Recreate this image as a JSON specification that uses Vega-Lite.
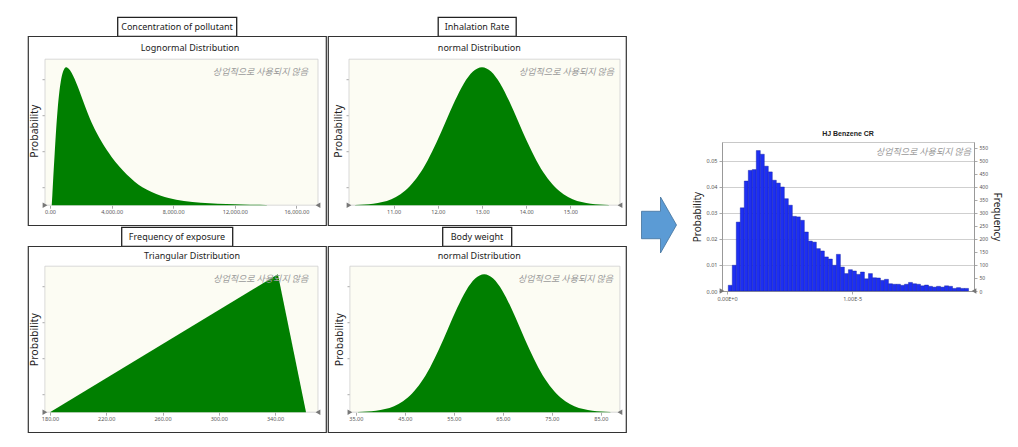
{
  "$schema": "https://vega.github.io/schema/vega-lite/v6.json",
  "background": "white",
  "padding": {"left": 27, "top": 16, "right": 5, "bottom": 5},
  "config": {
    "font": "Noto Sans",
    "view": {"stroke": null},
    "axis": {"labelFont": "Noto Sans", "titleFont": "Noto Sans", "titleFontWeight": "normal", "labelColor": "#555", "titleColor": "#222", "tickColor": "#aaa", "domainColor": "#999", "labelOverlap": false, "labelFlush": false}
  },
  "hconcat": [
    {
      "vconcat": [
        {
          "hconcat": [
            {
              "vconcat": [
                {
                  "width": 119, "height": 19,
                  "view": {"stroke": "#222", "strokeWidth": 1.3, "fill": "white"},
                  "data": {"values": [{"label": "Concentration of pollutant"}]},
                  "mark": {"type": "text", "fontSize": 9, "color": "#222"},
                  "encoding": {"text": {"field": "label"}}
                },
                {
                  "width": 298, "height": 189,
                  "view": {"stroke": "#333", "strokeWidth": 1.2, "fill": "white"},
                  "data": {"values": [
                    {"concentration": 110, "probability": 0},
                    {"concentration": 150, "probability": 0.07},
                    {"concentration": 200, "probability": 0.177},
                    {"concentration": 300, "probability": 0.37},
                    {"concentration": 400, "probability": 0.552},
                    {"concentration": 500, "probability": 0.701},
                    {"concentration": 600, "probability": 0.815},
                    {"concentration": 700, "probability": 0.896},
                    {"concentration": 800, "probability": 0.95},
                    {"concentration": 900, "probability": 0.982},
                    {"concentration": 1000, "probability": 0.997},
                    {"concentration": 1070, "probability": 1},
                    {"concentration": 1200, "probability": 0.99},
                    {"concentration": 1400, "probability": 0.96},
                    {"concentration": 1600, "probability": 0.915},
                    {"concentration": 1800, "probability": 0.86},
                    {"concentration": 2000, "probability": 0.8},
                    {"concentration": 2300, "probability": 0.71},
                    {"concentration": 2600, "probability": 0.625},
                    {"concentration": 3000, "probability": 0.53},
                    {"concentration": 3400, "probability": 0.45},
                    {"concentration": 4000, "probability": 0.35},
                    {"concentration": 4500, "probability": 0.28},
                    {"concentration": 5000, "probability": 0.22},
                    {"concentration": 5500, "probability": 0.17},
                    {"concentration": 6000, "probability": 0.13},
                    {"concentration": 6600, "probability": 0.095},
                    {"concentration": 7200, "probability": 0.068},
                    {"concentration": 7700, "probability": 0.052},
                    {"concentration": 8700, "probability": 0.03},
                    {"concentration": 9800, "probability": 0.018},
                    {"concentration": 10900, "probability": 0.011},
                    {"concentration": 12000, "probability": 0.007},
                    {"concentration": 13000, "probability": 0.004},
                    {"concentration": 14000, "probability": 0.001},
                    {"concentration": 14100, "probability": 0}
                  ]},
                  "layer": [
                    {
                      "mark": {"type": "area", "opacity": 0},
                      "encoding": {
                        "x": {"field": "concentration", "type": "quantitative", "scale": {"domain": [-1429, 17922], "nice": false, "zero": false}, "axis": {"title": null, "values": [0, 2000, 4000, 6000, 8000, 10000, 12000, 14000, 16000], "format": ",.2f", "offset": -20, "domain": false, "tickSize": 3, "labelFontSize": 5.5, "labelPadding": 1, "labelOverlap": false, "labelSeparation": -15, "labelFlush": false, "grid": false}},
                        "y": {"field": "probability", "type": "quantitative", "scale": {"domain": [-0.1449, 1.2246], "nice": false, "zero": false}, "axis": {"title": "Probability", "titleFontSize": 10.5, "labels": false, "offset": -17, "domain": false, "tickSize": 3, "values": [0.13, 0.26, 0.39, 0.52, 0.65, 0.78, 0.91, 1.04], "titlePadding": 2, "grid": false}},
                        "y2": {"datum": 0}
                      }
                    },
                    {
                      "data": {"values": [{"area": "plot"}]},
                      "mark": {"type": "rect", "fill": "#fcfcf3", "stroke": "#cfcfcf", "strokeWidth": 0.8},
                      "encoding": {
                        "x": {"datum": -325, "type": "quantitative"},
                        "x2": {"datum": 17403},
                        "y": {"datum": 0, "type": "quantitative"},
                        "y2": {"datum": 1.058}
                      }
                    },
                    {
                      "mark": {"type": "area", "color": "#007f00", "interpolate": "monotone"},
                      "encoding": {
                        "x": {"field": "concentration", "type": "quantitative"},
                        "y": {"field": "probability", "type": "quantitative"},
                        "y2": {"datum": 0}
                      }
                    },
                    {
                      "data": {"values": [{"title": "Lognormal Distribution"}]},
                      "mark": {"type": "text", "fontSize": 9, "color": "#222", "baseline": "middle"},
                      "encoding": {"text": {"field": "title"}, "x": {"datum": 9091, "type": "quantitative"}, "y": {"datum": 1.14, "type": "quantitative"}}
                    },
                    {
                      "data": {"values": [{"note": "상업적으로 사용되지 않음"}]},
                      "mark": {"type": "text", "align": "right", "baseline": "middle", "font": "Noto Sans CJK KR", "fontSize": 9, "fontStyle": "italic", "color": "#9a9a9a"},
                      "encoding": {"text": {"field": "note"}, "x": {"datum": 16753, "type": "quantitative"}, "y": {"datum": 0.964, "type": "quantitative"}}
                    },
                    {
                      "data": {"values": [{"marker": "start"}]},
                      "mark": {"type": "point", "shape": "triangle-right", "filled": true, "color": "#777", "size": 30, "opacity": 1},
                      "encoding": {"x": {"datum": -325, "type": "quantitative"}, "y": {"datum": 0, "type": "quantitative"}}
                    },
                    {
                      "data": {"values": [{"marker": "end"}]},
                      "mark": {"type": "point", "shape": "triangle-left", "filled": true, "color": "#777", "size": 30, "opacity": 1},
                      "encoding": {"x": {"datum": 17403, "type": "quantitative"}, "y": {"datum": 0, "type": "quantitative"}}
                    }
                  ]
                }
              ],
              "spacing": 0, "center": true, "bounds": "flush"
            },
            {
              "vconcat": [
                {
                  "width": 78, "height": 19,
                  "view": {"stroke": "#222", "strokeWidth": 1.3, "fill": "white"},
                  "data": {"values": [{"label": "Inhalation Rate"}]},
                  "mark": {"type": "text", "fontSize": 9, "color": "#222"},
                  "encoding": {"text": {"field": "label"}}
                },
                {
                  "width": 298, "height": 189,
                  "view": {"stroke": "#333", "strokeWidth": 1.2, "fill": "white"},
                  "data": {"values": [
                    {"inhalation_rate": 10.13, "probability": 0.0022},
                    {"inhalation_rate": 10.335, "probability": 0.0051},
                    {"inhalation_rate": 10.54, "probability": 0.0111},
                    {"inhalation_rate": 10.745, "probability": 0.0228},
                    {"inhalation_rate": 10.95, "probability": 0.0439},
                    {"inhalation_rate": 11.155, "probability": 0.0796},
                    {"inhalation_rate": 11.36, "probability": 0.1353},
                    {"inhalation_rate": 11.565, "probability": 0.2163},
                    {"inhalation_rate": 11.77, "probability": 0.3247},
                    {"inhalation_rate": 11.975, "probability": 0.4578},
                    {"inhalation_rate": 12.18, "probability": 0.6065},
                    {"inhalation_rate": 12.385, "probability": 0.7548},
                    {"inhalation_rate": 12.59, "probability": 0.8825},
                    {"inhalation_rate": 12.795, "probability": 0.969},
                    {"inhalation_rate": 13.0, "probability": 1.0},
                    {"inhalation_rate": 13.205, "probability": 0.969},
                    {"inhalation_rate": 13.41, "probability": 0.8825},
                    {"inhalation_rate": 13.615, "probability": 0.7548},
                    {"inhalation_rate": 13.82, "probability": 0.6065},
                    {"inhalation_rate": 14.025, "probability": 0.4578},
                    {"inhalation_rate": 14.23, "probability": 0.3247},
                    {"inhalation_rate": 14.435, "probability": 0.2163},
                    {"inhalation_rate": 14.64, "probability": 0.1353},
                    {"inhalation_rate": 14.845, "probability": 0.0796},
                    {"inhalation_rate": 15.05, "probability": 0.0439},
                    {"inhalation_rate": 15.255, "probability": 0.0228},
                    {"inhalation_rate": 15.46, "probability": 0.0111},
                    {"inhalation_rate": 15.665, "probability": 0.0051},
                    {"inhalation_rate": 15.87, "probability": 0.0022}
                  ]},
                  "layer": [
                    {
                      "mark": {"type": "area", "opacity": 0},
                      "encoding": {
                        "x": {"field": "inhalation_rate", "type": "quantitative", "scale": {"domain": [9.516, 16.258], "nice": false, "zero": false}, "axis": {"title": null, "values": [11, 12, 13, 14, 15], "format": ".2f", "offset": -20, "domain": false, "tickSize": 3, "labelFontSize": 5.5, "labelPadding": 1, "labelOverlap": false, "labelSeparation": -15, "labelFlush": false, "grid": false}},
                        "y": {"field": "probability", "type": "quantitative", "scale": {"domain": [-0.1449, 1.2246], "nice": false, "zero": false}, "axis": {"title": "Probability", "titleFontSize": 10.5, "labels": false, "offset": -21, "domain": false, "tickSize": 3, "values": [0.13, 0.26, 0.39, 0.52, 0.65, 0.78, 0.91, 1.04], "titlePadding": 2, "grid": false}},
                        "y2": {"datum": 0}
                      }
                    },
                    {
                      "data": {"values": [{"area": "plot"}]},
                      "mark": {"type": "rect", "fill": "#fcfcf3", "stroke": "#cfcfcf", "strokeWidth": 0.8},
                      "encoding": {
                        "x": {"datum": 9.991, "type": "quantitative"},
                        "x2": {"datum": 16.122},
                        "y": {"datum": 0, "type": "quantitative"},
                        "y2": {"datum": 1.058}
                      }
                    },
                    {
                      "mark": {"type": "area", "color": "#007f00", "interpolate": "monotone"},
                      "encoding": {
                        "x": {"field": "inhalation_rate", "type": "quantitative"},
                        "y": {"field": "probability", "type": "quantitative"},
                        "y2": {"datum": 0}
                      }
                    },
                    {
                      "data": {"values": [{"title": "normal Distribution"}]},
                      "mark": {"type": "text", "fontSize": 9, "color": "#222", "baseline": "middle"},
                      "encoding": {"text": {"field": "title"}, "x": {"datum": 12.94, "type": "quantitative"}, "y": {"datum": 1.14, "type": "quantitative"}}
                    },
                    {
                      "data": {"values": [{"note": "상업적으로 사용되지 않음"}]},
                      "mark": {"type": "text", "align": "right", "baseline": "middle", "font": "Noto Sans CJK KR", "fontSize": 9, "fontStyle": "italic", "color": "#9a9a9a"},
                      "encoding": {"text": {"field": "note"}, "x": {"datum": 15.99, "type": "quantitative"}, "y": {"datum": 0.964, "type": "quantitative"}}
                    },
                    {
                      "data": {"values": [{"marker": "start"}]},
                      "mark": {"type": "point", "shape": "triangle-right", "filled": true, "color": "#777", "size": 30, "opacity": 1},
                      "encoding": {"x": {"datum": 9.991, "type": "quantitative"}, "y": {"datum": 0, "type": "quantitative"}}
                    },
                    {
                      "data": {"values": [{"marker": "end"}]},
                      "mark": {"type": "point", "shape": "triangle-left", "filled": true, "color": "#777", "size": 30, "opacity": 1},
                      "encoding": {"x": {"datum": 16.122, "type": "quantitative"}, "y": {"datum": 0, "type": "quantitative"}}
                    }
                  ]
                }
              ],
              "spacing": 0, "center": true, "bounds": "flush"
            }
          ],
          "spacing": 0
        },
        {
          "hconcat": [
            {
              "vconcat": [
                {
                  "width": 111, "height": 19,
                  "view": {"stroke": "#222", "strokeWidth": 1.3, "fill": "white"},
                  "data": {"values": [{"label": "Frequency of exposure"}]},
                  "mark": {"type": "text", "fontSize": 9, "color": "#222"},
                  "encoding": {"text": {"field": "label"}}
                },
                {
                  "width": 298, "height": 186,
                  "view": {"stroke": "#333", "strokeWidth": 1.2, "fill": "white"},
                  "data": {"values": [
                    {"exposure_days": 180, "probability": 0},
                    {"exposure_days": 342, "probability": 1},
                    {"exposure_days": 362, "probability": 0}
                  ]},
                  "layer": [
                    {
                      "mark": {"type": "area", "opacity": 0},
                      "encoding": {
                        "x": {"field": "exposure_days", "type": "quantitative", "scale": {"domain": [164.4, 376.2], "nice": false, "zero": false}, "axis": {"title": null, "values": [180, 200, 220, 240, 260, 280, 300, 320, 340, 360], "format": ".2f", "offset": -20, "domain": false, "tickSize": 3, "labelFontSize": 5.5, "labelPadding": 1, "labelOverlap": false, "labelSeparation": -15, "labelFlush": false, "grid": false}},
                        "y": {"field": "probability", "type": "quantitative", "scale": {"domain": [-0.1449, 1.2029], "nice": false, "zero": false}, "axis": {"title": "Probability", "titleFontSize": 10.5, "labels": false, "offset": -17, "domain": false, "tickSize": 3, "values": [0.13, 0.26, 0.39, 0.52, 0.65, 0.78, 0.91, 1.04], "titlePadding": 2, "grid": false}},
                        "y2": {"datum": 0}
                      }
                    },
                    {
                      "data": {"values": [{"area": "plot"}]},
                      "mark": {"type": "rect", "fill": "#fcfcf3", "stroke": "#cfcfcf", "strokeWidth": 0.8},
                      "encoding": {
                        "x": {"datum": 176.4, "type": "quantitative"},
                        "x2": {"datum": 370.5},
                        "y": {"datum": 0, "type": "quantitative"},
                        "y2": {"datum": 1.058}
                      }
                    },
                    {
                      "mark": {"type": "area", "color": "#007f00"},
                      "encoding": {
                        "x": {"field": "exposure_days", "type": "quantitative"},
                        "y": {"field": "probability", "type": "quantitative"},
                        "y2": {"datum": 0}
                      }
                    },
                    {
                      "data": {"values": [{"title": "Triangular Distribution"}]},
                      "mark": {"type": "text", "fontSize": 9, "color": "#222", "baseline": "middle"},
                      "encoding": {"text": {"field": "title"}, "x": {"datum": 281, "type": "quantitative"}, "y": {"datum": 1.13, "type": "quantitative"}}
                    },
                    {
                      "data": {"values": [{"note": "상업적으로 사용되지 않음"}]},
                      "mark": {"type": "text", "align": "right", "baseline": "middle", "font": "Noto Sans CJK KR", "fontSize": 9, "fontStyle": "italic", "color": "#9a9a9a"},
                      "encoding": {"text": {"field": "note"}, "x": {"datum": 363.6, "type": "quantitative"}, "y": {"datum": 0.964, "type": "quantitative"}}
                    },
                    {
                      "data": {"values": [{"marker": "start"}]},
                      "mark": {"type": "point", "shape": "triangle-right", "filled": true, "color": "#777", "size": 30, "opacity": 1},
                      "encoding": {"x": {"datum": 176.4, "type": "quantitative"}, "y": {"datum": 0, "type": "quantitative"}}
                    },
                    {
                      "data": {"values": [{"marker": "end"}]},
                      "mark": {"type": "point", "shape": "triangle-left", "filled": true, "color": "#777", "size": 30, "opacity": 1},
                      "encoding": {"x": {"datum": 370.5, "type": "quantitative"}, "y": {"datum": 0, "type": "quantitative"}}
                    }
                  ]
                }
              ],
              "spacing": 0, "center": true, "bounds": "flush"
            },
            {
              "vconcat": [
                {
                  "width": 69, "height": 19,
                  "view": {"stroke": "#222", "strokeWidth": 1.3, "fill": "white"},
                  "data": {"values": [{"label": "Body weight"}]},
                  "mark": {"type": "text", "fontSize": 9, "color": "#222"},
                  "encoding": {"text": {"field": "label"}}
                },
                {
                  "width": 298, "height": 186,
                  "view": {"stroke": "#333", "strokeWidth": 1.2, "fill": "white"},
                  "data": {"values": [
                    {"body_weight": 35.44, "probability": 0.0022},
                    {"body_weight": 37.28, "probability": 0.0051},
                    {"body_weight": 39.12, "probability": 0.0111},
                    {"body_weight": 40.96, "probability": 0.0228},
                    {"body_weight": 42.8, "probability": 0.0439},
                    {"body_weight": 44.64, "probability": 0.0796},
                    {"body_weight": 46.48, "probability": 0.1353},
                    {"body_weight": 48.32, "probability": 0.2163},
                    {"body_weight": 50.16, "probability": 0.3247},
                    {"body_weight": 52.0, "probability": 0.4578},
                    {"body_weight": 53.84, "probability": 0.6065},
                    {"body_weight": 55.68, "probability": 0.7548},
                    {"body_weight": 57.52, "probability": 0.8825},
                    {"body_weight": 59.36, "probability": 0.969},
                    {"body_weight": 61.2, "probability": 1.0},
                    {"body_weight": 63.04, "probability": 0.969},
                    {"body_weight": 64.88, "probability": 0.8825},
                    {"body_weight": 66.72, "probability": 0.7548},
                    {"body_weight": 68.56, "probability": 0.6065},
                    {"body_weight": 70.4, "probability": 0.4578},
                    {"body_weight": 72.24, "probability": 0.3247},
                    {"body_weight": 74.08, "probability": 0.2163},
                    {"body_weight": 75.92, "probability": 0.1353},
                    {"body_weight": 77.76, "probability": 0.0796},
                    {"body_weight": 79.6, "probability": 0.0439},
                    {"body_weight": 81.44, "probability": 0.0228},
                    {"body_weight": 83.28, "probability": 0.0111},
                    {"body_weight": 85.12, "probability": 0.0051},
                    {"body_weight": 86.96, "probability": 0.0022}
                  ]},
                  "layer": [
                    {
                      "mark": {"type": "area", "opacity": 0},
                      "encoding": {
                        "x": {"field": "body_weight", "type": "quantitative", "scale": {"domain": [29.33, 90.14], "nice": false, "zero": false}, "axis": {"title": null, "values": [35, 40, 45, 50, 55, 60, 65, 70, 75, 80, 85], "format": ".2f", "offset": -20, "domain": false, "tickSize": 3, "labelFontSize": 5.5, "labelPadding": 1, "labelOverlap": false, "labelSeparation": -15, "labelFlush": false, "grid": false}},
                        "y": {"field": "probability", "type": "quantitative", "scale": {"domain": [-0.1449, 1.2029], "nice": false, "zero": false}, "axis": {"title": "Probability", "titleFontSize": 10.5, "labels": false, "offset": -22, "domain": false, "tickSize": 3, "values": [0.13, 0.26, 0.39, 0.52, 0.65, 0.78, 0.91, 1.04], "titlePadding": 2, "grid": false}},
                        "y2": {"datum": 0}
                      }
                    },
                    {
                      "data": {"values": [{"area": "plot"}]},
                      "mark": {"type": "rect", "fill": "#fcfcf3", "stroke": "#cfcfcf", "strokeWidth": 0.8},
                      "encoding": {
                        "x": {"datum": 33.8, "type": "quantitative"},
                        "x2": {"datum": 88.9},
                        "y": {"datum": 0, "type": "quantitative"},
                        "y2": {"datum": 1.058}
                      }
                    },
                    {
                      "mark": {"type": "area", "color": "#007f00", "interpolate": "monotone"},
                      "encoding": {
                        "x": {"field": "body_weight", "type": "quantitative"},
                        "y": {"field": "probability", "type": "quantitative"},
                        "y2": {"datum": 0}
                      }
                    },
                    {
                      "data": {"values": [{"title": "normal Distribution"}]},
                      "mark": {"type": "text", "fontSize": 9, "color": "#222", "baseline": "middle"},
                      "encoding": {"text": {"field": "title"}, "x": {"datum": 60.2, "type": "quantitative"}, "y": {"datum": 1.13, "type": "quantitative"}}
                    },
                    {
                      "data": {"values": [{"note": "상업적으로 사용되지 않음"}]},
                      "mark": {"type": "text", "align": "right", "baseline": "middle", "font": "Noto Sans CJK KR", "fontSize": 9, "fontStyle": "italic", "color": "#9a9a9a"},
                      "encoding": {"text": {"field": "note"}, "x": {"datum": 87.5, "type": "quantitative"}, "y": {"datum": 0.964, "type": "quantitative"}}
                    },
                    {
                      "data": {"values": [{"marker": "start"}]},
                      "mark": {"type": "point", "shape": "triangle-right", "filled": true, "color": "#777", "size": 30, "opacity": 1},
                      "encoding": {"x": {"datum": 33.8, "type": "quantitative"}, "y": {"datum": 0, "type": "quantitative"}}
                    },
                    {
                      "data": {"values": [{"marker": "end"}]},
                      "mark": {"type": "point", "shape": "triangle-left", "filled": true, "color": "#777", "size": 30, "opacity": 1},
                      "encoding": {"x": {"datum": 88.9, "type": "quantitative"}, "y": {"datum": 0, "type": "quantitative"}}
                    }
                  ]
                }
              ],
              "spacing": 0, "center": true, "bounds": "flush"
            }
          ],
          "spacing": 0
        }
      ],
      "spacing": 0
    },
    {
      "width": 40, "height": 60,
      "data": {"values": [{"symbol": "arrow"}]},
      "mark": {"type": "point", "shape": "M-0.625,-0.49L0.054,-0.49L0.054,-1L0.625,0L0.054,1L0.054,0.49L-0.625,0.49Z", "size": 3136, "filled": true, "fill": "#5b9bd5", "stroke": "#41719c", "strokeWidth": 0.8, "opacity": 1},
      "encoding": {}
    },
    {
      "width": 252, "height": 149,
      "title": {"text": "HJ Benzene CR", "font": "Liberation Sans", "fontSize": 7, "fontWeight": "bold", "color": "#222", "offset": 5},
      "view": {"stroke": "#c8c8c8", "fill": "white"},
      "data": {"values": [
        {"cr_from": 1.0e-7, "cr_to": 4.2e-7, "probability": 0.0022, "frequency": 22},
        {"cr_from": 4.2e-7, "cr_to": 7.4e-7, "probability": 0.0099, "frequency": 99},
        {"cr_from": 7.4e-7, "cr_to": 10.6e-7, "probability": 0.0265, "frequency": 265},
        {"cr_from": 10.6e-7, "cr_to": 13.8e-7, "probability": 0.032, "frequency": 320},
        {"cr_from": 13.8e-7, "cr_to": 17.0e-7, "probability": 0.0423, "frequency": 423},
        {"cr_from": 17.0e-7, "cr_to": 20.2e-7, "probability": 0.0464, "frequency": 464},
        {"cr_from": 20.2e-7, "cr_to": 23.4e-7, "probability": 0.0467, "frequency": 467},
        {"cr_from": 23.4e-7, "cr_to": 26.6e-7, "probability": 0.054, "frequency": 540},
        {"cr_from": 26.6e-7, "cr_to": 29.8e-7, "probability": 0.0526, "frequency": 526},
        {"cr_from": 29.8e-7, "cr_to": 33.0e-7, "probability": 0.048, "frequency": 480},
        {"cr_from": 33.0e-7, "cr_to": 36.2e-7, "probability": 0.0458, "frequency": 458},
        {"cr_from": 36.2e-7, "cr_to": 39.4e-7, "probability": 0.0426, "frequency": 426},
        {"cr_from": 39.4e-7, "cr_to": 42.6e-7, "probability": 0.0415, "frequency": 415},
        {"cr_from": 42.6e-7, "cr_to": 45.8e-7, "probability": 0.04, "frequency": 400},
        {"cr_from": 45.8e-7, "cr_to": 49.0e-7, "probability": 0.0355, "frequency": 355},
        {"cr_from": 49.0e-7, "cr_to": 52.2e-7, "probability": 0.033, "frequency": 330},
        {"cr_from": 52.2e-7, "cr_to": 55.4e-7, "probability": 0.0287, "frequency": 287},
        {"cr_from": 55.4e-7, "cr_to": 58.6e-7, "probability": 0.0285, "frequency": 285},
        {"cr_from": 58.6e-7, "cr_to": 61.8e-7, "probability": 0.0272, "frequency": 272},
        {"cr_from": 61.8e-7, "cr_to": 65.0e-7, "probability": 0.0227, "frequency": 227},
        {"cr_from": 65.0e-7, "cr_to": 68.2e-7, "probability": 0.0192, "frequency": 192},
        {"cr_from": 68.2e-7, "cr_to": 71.4e-7, "probability": 0.0188, "frequency": 188},
        {"cr_from": 71.4e-7, "cr_to": 74.6e-7, "probability": 0.0163, "frequency": 163},
        {"cr_from": 74.6e-7, "cr_to": 77.8e-7, "probability": 0.0154, "frequency": 154},
        {"cr_from": 77.8e-7, "cr_to": 81.0e-7, "probability": 0.0131, "frequency": 131},
        {"cr_from": 81.0e-7, "cr_to": 84.2e-7, "probability": 0.0123, "frequency": 123},
        {"cr_from": 84.2e-7, "cr_to": 87.4e-7, "probability": 0.0099, "frequency": 99},
        {"cr_from": 87.4e-7, "cr_to": 90.6e-7, "probability": 0.0141, "frequency": 141},
        {"cr_from": 90.6e-7, "cr_to": 93.8e-7, "probability": 0.0092, "frequency": 92},
        {"cr_from": 93.8e-7, "cr_to": 97.0e-7, "probability": 0.0067, "frequency": 67},
        {"cr_from": 97.0e-7, "cr_to": 100.2e-7, "probability": 0.0082, "frequency": 82},
        {"cr_from": 100.2e-7, "cr_to": 103.4e-7, "probability": 0.0077, "frequency": 77},
        {"cr_from": 103.4e-7, "cr_to": 106.6e-7, "probability": 0.0064, "frequency": 64},
        {"cr_from": 106.6e-7, "cr_to": 109.8e-7, "probability": 0.0073, "frequency": 73},
        {"cr_from": 109.8e-7, "cr_to": 113.0e-7, "probability": 0.0047, "frequency": 47},
        {"cr_from": 113.0e-7, "cr_to": 116.2e-7, "probability": 0.0067, "frequency": 67},
        {"cr_from": 116.2e-7, "cr_to": 119.4e-7, "probability": 0.0051, "frequency": 51},
        {"cr_from": 119.4e-7, "cr_to": 122.6e-7, "probability": 0.005, "frequency": 50},
        {"cr_from": 122.6e-7, "cr_to": 125.8e-7, "probability": 0.0041, "frequency": 41},
        {"cr_from": 125.8e-7, "cr_to": 129.0e-7, "probability": 0.0045, "frequency": 45},
        {"cr_from": 129.0e-7, "cr_to": 132.2e-7, "probability": 0.0028, "frequency": 28},
        {"cr_from": 132.2e-7, "cr_to": 135.4e-7, "probability": 0.0026, "frequency": 26},
        {"cr_from": 135.4e-7, "cr_to": 138.6e-7, "probability": 0.0026, "frequency": 26},
        {"cr_from": 138.6e-7, "cr_to": 141.8e-7, "probability": 0.0022, "frequency": 22},
        {"cr_from": 141.8e-7, "cr_to": 145.0e-7, "probability": 0.0026, "frequency": 26},
        {"cr_from": 145.0e-7, "cr_to": 148.2e-7, "probability": 0.0033, "frequency": 33},
        {"cr_from": 148.2e-7, "cr_to": 151.4e-7, "probability": 0.0028, "frequency": 28},
        {"cr_from": 151.4e-7, "cr_to": 154.6e-7, "probability": 0.0026, "frequency": 26},
        {"cr_from": 154.6e-7, "cr_to": 157.8e-7, "probability": 0.002, "frequency": 20},
        {"cr_from": 157.8e-7, "cr_to": 161.0e-7, "probability": 0.0023, "frequency": 23},
        {"cr_from": 161.0e-7, "cr_to": 164.2e-7, "probability": 0.0018, "frequency": 18},
        {"cr_from": 164.2e-7, "cr_to": 167.4e-7, "probability": 0.0015, "frequency": 15},
        {"cr_from": 167.4e-7, "cr_to": 170.6e-7, "probability": 0.0018, "frequency": 18},
        {"cr_from": 170.6e-7, "cr_to": 173.8e-7, "probability": 0.0015, "frequency": 15},
        {"cr_from": 173.8e-7, "cr_to": 177.0e-7, "probability": 0.002, "frequency": 20},
        {"cr_from": 177.0e-7, "cr_to": 180.2e-7, "probability": 0.0018, "frequency": 18},
        {"cr_from": 180.2e-7, "cr_to": 183.4e-7, "probability": 0.001, "frequency": 10},
        {"cr_from": 183.4e-7, "cr_to": 186.6e-7, "probability": 0.0013, "frequency": 13},
        {"cr_from": 186.6e-7, "cr_to": 189.8e-7, "probability": 0.001, "frequency": 10},
        {"cr_from": 189.8e-7, "cr_to": 193.0e-7, "probability": 0.001, "frequency": 10}
      ]},
      "layer": [
        {
          "mark": {"type": "rect", "fill": "#1e2ff2", "stroke": "#0d1b99", "strokeWidth": 0.4},
          "encoding": {
            "x": {"field": "cr_from", "type": "quantitative", "scale": {"domain": [-4e-7, 1.9736e-5], "nice": false, "zero": false}, "axis": {"title": " ", "titleFontSize": 5, "titlePadding": 1, "values": [0, 1e-5], "labelExpr": "replace(format(datum.value, '.2e'), 'e', 'E')", "labelFontSize": 5.5, "tickSize": 3, "labelPadding": 2, "grid": false}},
            "x2": {"field": "cr_to"},
            "y": {"field": "probability", "type": "quantitative", "scale": {"domain": [0, 0.0573], "nice": false}, "axis": {"title": "Probability", "titleFontSize": 10, "values": [0, 0.01, 0.02, 0.03, 0.04, 0.05], "format": ".2f", "grid": true, "gridColor": "#cfcfcf", "labelFontSize": 5.5, "tickSize": 3, "titlePadding": 4}},
            "y2": {"datum": 0}
          }
        },
        {
          "mark": {"type": "rect", "opacity": 0},
          "encoding": {
            "x": {"field": "cr_from", "type": "quantitative"},
            "x2": {"field": "cr_to"},
            "y": {"field": "frequency", "type": "quantitative", "scale": {"domain": [0, 573], "nice": false}, "axis": {"orient": "right", "title": "Frequency", "titleAngle": 90, "titleFontSize": 10, "values": [0, 50, 100, 150, 200, 250, 300, 350, 400, 450, 500, 550], "labelFontSize": 5, "tickSize": 3, "grid": false, "titlePadding": 4}},
            "y2": {"datum": 0}
          }
        },
        {
          "data": {"values": [{"note": "상업적으로 사용되지 않음"}]},
          "mark": {"type": "text", "align": "right", "baseline": "middle", "font": "Noto Sans CJK KR", "fontSize": 9, "fontStyle": "italic", "color": "#9a9a9a"},
          "encoding": {"text": {"field": "note"}, "x": {"datum": 1.95e-5, "type": "quantitative"}, "y": {"datum": 0.0535, "type": "quantitative", "scale": {"domain": [0, 0.0573], "nice": false}, "axis": null}}
        },
        {
          "data": {"values": [{"marker": "start"}]},
          "mark": {"type": "point", "shape": "triangle-right", "filled": true, "color": "#777", "size": 30, "opacity": 1},
          "encoding": {"x": {"datum": -4e-7, "type": "quantitative"}, "y": {"datum": 0, "type": "quantitative", "scale": {"domain": [0, 0.0573], "nice": false}, "axis": null}}
        },
        {
          "data": {"values": [{"marker": "end"}]},
          "mark": {"type": "point", "shape": "triangle-left", "filled": true, "color": "#777", "size": 30, "opacity": 1},
          "encoding": {"x": {"datum": 1.9736e-5, "type": "quantitative"}, "y": {"datum": 0, "type": "quantitative", "scale": {"domain": [0, 0.0573], "nice": false}, "axis": null}}
        }
      ],
      "resolve": {"scale": {"y": "independent"}}
    }
  ],
  "spacing": 12,
  "center": true
}
